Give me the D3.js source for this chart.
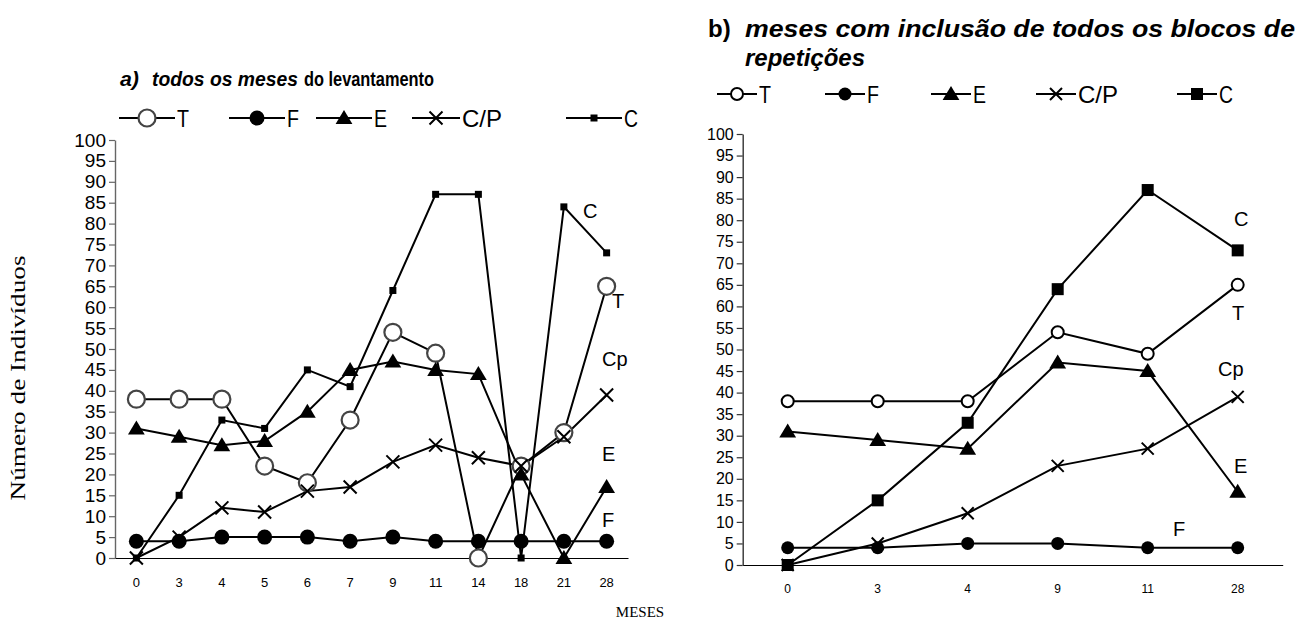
<!DOCTYPE html>
<html>
<head>
<meta charset="utf-8">
<script src="https://cdn.jsdelivr.net/npm/d3@7/dist/d3.min.js"></script>
<style>
  html, body { margin: 0; padding: 0; background: #fff; }
  svg { display: block; }
  text { font-family: "Liberation Sans", Arial, sans-serif; fill: #000; }
  .serif { font-family: "Liberation Serif", "Times New Roman", serif; }
</style>
</head>
<body>
<svg id="chart" width="1312" height="622"></svg>
<script>
// Months of the survey (panel a) and months with all repetition blocks (panel b)
const monthsA = ["0", "3", "4", "5", "6", "7", "9", "11", "14", "18", "21", "28"];
const monthsB = ["0", "3", "4", "9", "11", "28"];

// Number of individuals per group, panel a
const tA  = [38, 38, 38, 22, 18, 33, 54, 49, 0, 22, 30, 65];
const fA  = [4, 4, 5, 5, 5, 4, 5, 4, 4, 4, 4, 4];
const eA  = [31, 29, 27, 28, 35, 45, 47, 45, 44, 20, 0, 17];
const cpA = [0, 5, 12, 11, 16, 17, 23, 27, 24, 22, 29, 39];
const cA  = [0, 15, 33, 31, 45, 41, 64, 87, 87, 0, 84, 73];

// Number of individuals per group, panel b
const tB  = [38, 38, 38, 54, 49, 65];
const fB  = [4, 4, 5, 5, 4, 4];
const eB  = [31, 29, 27, 47, 45, 17];
const cpB = [0, 5, 12, 23, 27, 39];
const cB  = [0, 15, 33, 64, 87, 73];

const yTicks = d3.range(0, 101, 5);
const seriesNames = ["T", "F", "E", "C/P", "C"];

const svg = d3.select("#chart");

// marker painter: kind = circleOpen | circle | triangle | cross | square
function drawMarker(g, kind, x, y, s) {
  if (kind === "circleOpen") {
    g.append("circle").attr("cx", x).attr("cy", y).attr("r", s.r)
      .attr("fill", "#fff").attr("stroke", s.stroke || "#000").attr("stroke-width", s.sw || 2);
  } else if (kind === "circle") {
    g.append("circle").attr("cx", x).attr("cy", y).attr("r", s.r).attr("fill", "#000");
  } else if (kind === "triangle") {
    const h = s.r;
    g.append("path")
      .attr("d", `M${x},${y - h}L${x + h * 1.05},${y + h * 0.75}L${x - h * 1.05},${y + h * 0.75}Z`)
      .attr("fill", "#000");
  } else if (kind === "cross") {
    const h = s.r;
    g.append("path")
      .attr("d", `M${x - h},${y - h}L${x + h},${y + h}M${x - h},${y + h}L${x + h},${y - h}`)
      .attr("stroke", "#000").attr("stroke-width", 2).attr("fill", "none");
  } else if (kind === "square") {
    const h = s.r;
    g.append("rect").attr("x", x - h).attr("y", y - h).attr("width", 2 * h).attr("height", 2 * h)
      .attr("fill", "#000");
  }
}

function drawPanel(cfg) {
  const x = d3.scaleBand().domain(cfg.months).range([cfg.x0, cfg.x1]).padding(0);
  const y = d3.scaleLinear().domain([0, 100]).range([cfg.y0, cfg.y1]);
  const g = svg.append("g");

  // y axis
  const yAxis = g.append("g").attr("transform", `translate(${cfg.x0},0)`)
    .call(d3.axisLeft(y).tickValues(yTicks).tickSize(6).tickPadding(cfg.yPad).tickSizeOuter(0));
  yAxis.select(".domain").attr("stroke", cfg.axisColor).attr("stroke-width", 1.4);
  yAxis.selectAll(".tick line").attr("stroke", cfg.axisColor).attr("stroke-width", 1.2);
  yAxis.selectAll("text").style("font-size", cfg.yFont + "px")
    .style("font-family", "'Liberation Sans', Arial, sans-serif").attr("fill", "#000");

  // x axis: baseline only, labels under each band
  const xAxis = g.append("g").attr("transform", `translate(0,${cfg.y0})`)
    .call(d3.axisBottom(x).tickSize(0).tickPadding(cfg.xPad));
  xAxis.select(".domain").attr("stroke", "#000").attr("stroke-width", 1.2);
  xAxis.selectAll("text").style("font-size", cfg.xFont + "px")
    .style("font-family", "'Liberation Sans', Arial, sans-serif").attr("fill", "#000");

  const cx = m => x(m) + x.bandwidth() / 2;
  const line = d3.line().x(d => cx(d.m)).y(d => y(d.v));

  const series = cfg.series.map(s => ({
    ...s,
    pts: cfg.months.map((m, i) => ({ m, v: s.values[i] }))
  }));

  series.forEach(s => {
    g.append("path").datum(s.pts).attr("d", line)
      .attr("fill", "none").attr("stroke", "#000").attr("stroke-width", 2);
  });
  series.forEach(s => {
    const mg = g.append("g");
    s.pts.forEach(p => drawMarker(mg, s.kind, cx(p.m), y(p.v), s.style));
  });

  // end-of-line labels
  cfg.labels.forEach(l => {
    g.append("text").attr("x", l.x).attr("y", l.y).text(l.text)
      .style("font-size", cfg.labelFont + "px");
  });

  // legend
  const lg = g.append("g");
  cfg.series.forEach((s, i) => {
    const lx = cfg.legend.xs[i];
    const ly = cfg.legend.y;
    const half = cfg.legend.halves[i];
    lg.append("line").attr("x1", lx - half).attr("x2", lx + half)
      .attr("y1", ly).attr("y2", ly).attr("stroke", "#000").attr("stroke-width", 2);
    drawMarker(lg, s.kind, lx, ly, s.legendStyle || s.style);
    lg.append("text").attr("x", lx + half + 2).attr("y", ly)
      .attr("dy", "0.36em").text(seriesNames[i])
      .attr("textLength", cfg.legend.widths[i]).attr("lengthAdjust", "spacingAndGlyphs")
      .style("font-size", cfg.legend.font + "px");
  });
}

// Panel a
drawPanel({
  months: monthsA, x0: 115, x1: 628, y0: 558, y1: 140,
  axisColor: "#666", yFont: 19, yPad: 3, xFont: 13, xPad: 20, labelFont: 20,
  series: [
    { values: tA,  kind: "circleOpen", style: { r: 8.5, stroke: "#444", sw: 2.2 } },
    { values: fA,  kind: "circle",     style: { r: 7.5 } },
    { values: eA,  kind: "triangle",   style: { r: 8 } },
    { values: cpA, kind: "cross",      style: { r: 6.5 } },
    { values: cA,  kind: "square",     style: { r: 3.5 } }
  ],
  labels: [
    { text: "C",  x: 583, y: 218 },
    { text: "T",  x: 612, y: 308 },
    { text: "Cp", x: 602, y: 366 },
    { text: "E",  x: 602, y: 461 },
    { text: "F",  x: 602, y: 527 }
  ],
  legend: {
    y: 118, font: 24,
    xs: [147, 257, 344, 436, 594],
    halves: [28, 28, 28, 24, 28],
    widths: [12, 12, 13, 40, 14]
  }
});

// Panel b
drawPanel({
  months: monthsB, x0: 742.7, x1: 1282.7, y0: 565, y1: 134,
  axisColor: "#333", yFont: 16, yPad: 3, xFont: 12, xPad: 19, labelFont: 20,
  series: [
    { values: tB,  kind: "circleOpen", style: { r: 6, stroke: "#000", sw: 2 } },
    { values: fB,  kind: "circle",     style: { r: 6.5 } },
    { values: eB,  kind: "triangle",   style: { r: 8 } },
    { values: cpB, kind: "cross",      style: { r: 6 } },
    { values: cB,  kind: "square",     style: { r: 6 } }
  ],
  labels: [
    { text: "C",  x: 1234, y: 226 },
    { text: "T",  x: 1232, y: 320 },
    { text: "Cp", x: 1218, y: 376 },
    { text: "E",  x: 1234, y: 473 },
    { text: "F",  x: 1173, y: 536 }
  ],
  legend: {
    y: 94, font: 24,
    xs: [737, 845, 951, 1056, 1197],
    halves: [20, 20, 20, 20, 20],
    widths: [12, 12, 13, 40, 14]
  }
});

// Titles
const tA_ = svg.append("text").attr("x", 120).attr("y", 86)
  .style("font-size", "21px").style("font-weight", "bold");
tA_.append("tspan").style("font-style", "italic").attr("textLength", 19)
  .attr("lengthAdjust", "spacingAndGlyphs").text("a)");
tA_.append("tspan").attr("x", 152).style("font-style", "italic").attr("textLength", 146)
  .attr("lengthAdjust", "spacingAndGlyphs").text("todos os meses");
tA_.append("tspan").attr("x", 304).attr("textLength", 130)
  .attr("lengthAdjust", "spacingAndGlyphs").text("do levantamento");

const tB_ = svg.append("text").attr("x", 708).attr("y", 37)
  .style("font-size", "24px").style("font-weight", "bold");
tB_.append("tspan").text("b)");
tB_.append("tspan").attr("x", 745).attr("textLength", 550).attr("lengthAdjust", "spacingAndGlyphs")
  .style("font-style", "italic").text("meses com inclusão de todos os blocos de");
svg.append("text").attr("x", 745).attr("y", 66)
  .style("font-size", "24px").style("font-weight", "bold").style("font-style", "italic")
  .text("repetições");

// Axis titles
svg.append("text").attr("class", "serif")
  .attr("transform", "translate(25,378) rotate(-90)")
  .attr("text-anchor", "middle").style("font-size", "22px")
  .attr("textLength", 245).attr("lengthAdjust", "spacingAndGlyphs")
  .text("Número de Indivíduos");
svg.append("text").attr("class", "serif")
  .attr("x", 640).attr("y", 617).attr("text-anchor", "middle").style("font-size", "15px")
  .text("MESES");
</script>
</body>
</html>
